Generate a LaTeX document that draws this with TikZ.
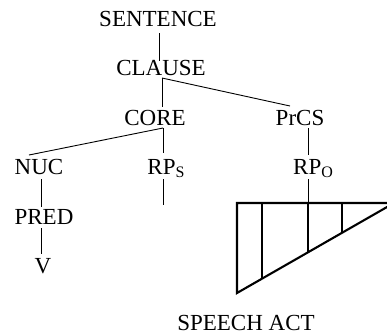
\documentclass[tikz,border=0pt]{standalone}
\usepackage{fontspec}
\setmainfont{Liberation Serif}
\begin{document}
\begin{tikzpicture}[x=1pt,y=-1pt,
  lbl/.style={anchor=base,inner sep=0pt,font=\fontsize{23}{25}\selectfont},
  branch/.style={line width=0.9pt},
  sa/.style={line width=2.1pt,line join=miter},
  sainner/.style={line width=1.5pt}]
\useasboundingbox (0,0) rectangle (387,335);
\clip (0,0) rectangle (387,335);
\newcommand{\subsc}[1]{\raisebox{-3pt}{\fontsize{16}{16}\selectfont #1}}
% nodes
\node[lbl] (sentence) at (158,26) {SENTENCE};
\node[lbl] (clause) at (161,75) {CLAUSE};
\node[lbl] (core) at (155,125) {CORE};
\node[lbl] (prcs) at (300,125) {PrCS};
\node[lbl] (nuc) at (39,174) {NUC};
\node[lbl] (rps) at (166,174) {RP\subsc{S}};
\node[lbl] (rpo) at (313,174) {RP\subsc{O}};
\node[lbl] (pred) at (44,224) {PRED};
\node[lbl] (v) at (43,273) {V};
\node[lbl] (speech) at (246,330) {SPEECH ACT};
% speech act triangle
\coordinate (tA) at (237,203);
\coordinate (tB) at (394,203);
\coordinate (tC) at (237,293);
\coordinate (rpsend) at (163,205);
\coordinate (rpoend) at (308,203);
% branches
\draw[branch] ([shift={(1,7)}]sentence.base) -- ([shift={(-2,-14)}]clause.base);
\draw[branch] ([shift={(1,3)}]clause.base) -- ([shift={(7,-18)}]core.base);
\draw[branch] ([shift={(1,3)}]clause.base) -- ([shift={(-10,-19)}]prcs.base);
\draw[branch] ([shift={(8,3)}]core.base) -- ([shift={(-10,-19)}]nuc.base);
\draw[branch] ([shift={(8,3)}]core.base) -- ([shift={(-3,-21)}]rps.base);
\draw[branch] ([shift={(8,3)}]prcs.base) -- ([shift={(-5,-19)}]rpo.base);
\draw[branch] ([shift={(-3,5)}]rps.base) -- (rpsend);
\draw[branch] ([shift={(2,5)}]nuc.base) -- ([shift={(-3,-17)}]pred.base);
\draw[branch] ([shift={(-3,4)}]pred.base) -- ([shift={(-2,-19)}]v.base);
\draw[branch] ([shift={(-5,5)}]rpo.base) -- (rpoend);
% triangle
\draw[sainner] (262,203) -- (262,278.7);
\draw[sainner] (rpoend) -- (308,252.3);
\draw[sainner] (342,203) -- (342,232.8);
\draw[sa] (tB) -- (tA) -- (tC) -- cycle;
\end{tikzpicture}
\end{document}
